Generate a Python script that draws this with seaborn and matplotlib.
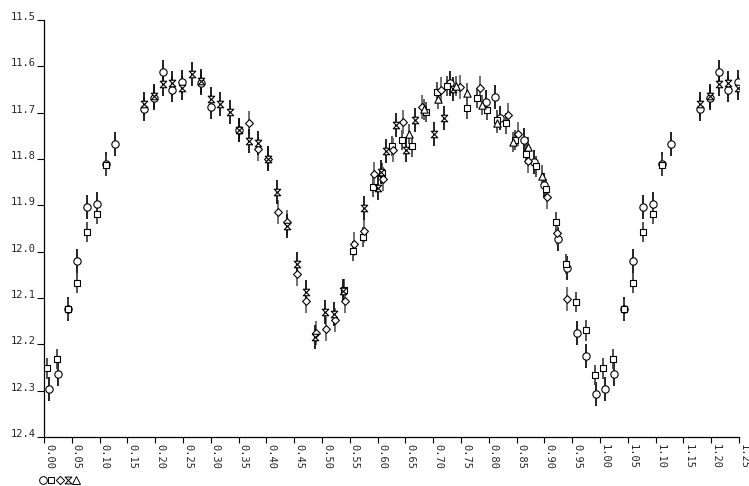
import numpy as np
import pandas as pd
import matplotlib
matplotlib.use("Agg")
import matplotlib.pyplot as plt
from matplotlib.path import Path
from matplotlib.lines import Line2D
import seaborn as sns

# Phased light curve: five observing runs, each with its own symbol.
circle_phase = [0.009, 0.026, 0.043, 0.060, 0.077, 0.095, 0.1115, 0.128, 0.180, 0.197,
                0.214, 0.231, 0.248, 0.283, 0.300, 0.351, 0.730, 0.795, 0.812, 0.820,
                0.863, 0.881, 0.900, 0.924, 0.941, 0.958, 0.975, 0.993]
circle_mag = [12.296, 12.264, 12.124, 12.020, 11.903, 11.898, 11.811, 11.768, 11.692, 11.668,
              11.613, 11.650, 11.634, 11.635, 11.688, 11.737, 11.637, 11.677, 11.666, 11.711,
              11.759, 11.806, 11.856, 11.973, 12.035, 12.176, 12.225, 12.307]

square_phase = [0.006, 0.024, 0.043, 0.060, 0.077, 0.095, 0.1115, 0.539, 0.555, 0.573,
                0.591, 0.608, 0.625, 0.644, 0.662, 0.687, 0.707, 0.724, 0.761, 0.779,
                0.796, 0.814, 0.831, 0.848, 0.867, 0.885, 0.903, 0.921, 0.938, 0.957,
                0.974, 0.991]
square_mag = [12.252, 12.231, 12.124, 12.068, 11.958, 11.918, 11.814, 12.082, 11.998, 11.968,
              11.860, 11.831, 11.772, 11.759, 11.773, 11.699, 11.655, 11.643, 11.691, 11.668,
              11.694, 11.716, 11.723, 11.759, 11.789, 11.816, 11.865, 11.937, 12.027, 12.109,
              12.170, 12.266]

diamond_phase = [0.369, 0.3855, 0.403, 0.421, 0.4376, 0.4544, 0.471, 0.4897, 0.5066, 0.524,
                 0.542, 0.558, 0.576, 0.593, 0.610, 0.628, 0.645, 0.680, 0.714, 0.748,
                 0.784, 0.835, 0.853, 0.870, 0.905, 0.922, 0.940]
diamond_mag = [11.723, 11.779, 11.799, 11.914, 11.937, 12.048, 12.107, 12.176, 12.167, 12.148,
               12.106, 11.983, 11.955, 11.832, 11.844, 11.780, 11.721, 11.687, 11.650, 11.645,
               11.647, 11.705, 11.747, 11.804, 11.882, 11.960, 12.103]

hourglass_phase = [0.180, 0.197, 0.214, 0.231, 0.248, 0.266, 0.283, 0.300, 0.317, 0.335,
                   0.351, 0.368, 0.3855, 0.403, 0.4196, 0.4365, 0.4544, 0.4706, 0.488, 0.505,
                   0.522, 0.537, 0.575, 0.601, 0.606, 0.616, 0.633, 0.651, 0.668, 0.702,
                   0.719, 0.736]
hourglass_mag = [11.682, 11.665, 11.638, 11.637, 11.647, 11.617, 11.632, 11.670, 11.682, 11.699,
                 11.737, 11.762, 11.766, 11.799, 11.871, 11.945, 12.027, 12.087, 12.185, 12.130,
                 12.135, 12.085, 11.906, 11.862, 11.829, 11.783, 11.726, 11.780, 11.716, 11.747,
                 11.711, 11.648]

triangle_phase = [0.656, 0.683, 0.709, 0.741, 0.761, 0.788, 0.815, 0.843, 0.870, 0.896]
triangle_mag = [11.746, 11.693, 11.670, 11.643, 11.658, 11.684, 11.722, 11.763, 11.775, 11.836]

# one-sigma errors per run (mag)
run_err = {"circle": 0.026, "square": 0.022, "diamond": 0.026, "hourglass": 0.026, "triangle": 0.022}

x_ticks = [0.00, 0.05, 0.10, 0.15, 0.20, 0.25, 0.30, 0.35, 0.40, 0.45, 0.50, 0.55, 0.60,
           0.65, 0.70, 0.75, 0.80, 0.85, 0.90, 0.95, 1.00, 1.05, 1.10, 1.15, 1.20, 1.25]
y_ticks = [11.5, 11.6, 11.7, 11.8, 11.9, 12.0, 12.1, 12.2, 12.3, 12.4]

hourglass = Path([(-1, 1), (1, 1), (-1, -1), (1, -1), (-1, 1)],
                 [Path.MOVETO, Path.LINETO, Path.LINETO, Path.LINETO, Path.CLOSEPOLY])
diamond = Path([(0, 1), (1, 0), (0, -1), (-1, 0), (0, 1)],
               [Path.MOVETO, Path.LINETO, Path.LINETO, Path.LINETO, Path.CLOSEPOLY])

runs = {
    "circle": (circle_phase, circle_mag),
    "square": (square_phase, square_mag),
    "diamond": (diamond_phase, diamond_mag),
    "hourglass": (hourglass_phase, hourglass_mag),
    "triangle": (triangle_phase, triangle_mag),
}
style = {
    "circle": dict(marker="o", s=28, bar="#111111"),
    "square": dict(marker="s", s=18, bar="#444444"),
    "diamond": dict(marker=diamond, s=32, bar="#666666"),
    "hourglass": dict(marker=hourglass, s=22, bar="#111111"),
    "triangle": dict(marker="^", s=28, bar="#555555"),
}

frames = []
for name, (ph, mg) in runs.items():
    d = pd.DataFrame({"phase": ph, "mag": mg, "run": name})
    d["err"] = run_err[name]
    # repeat the first quarter cycle after phase 1
    wrap = d[d["phase"] < 0.25].copy()
    wrap["phase"] = wrap["phase"] + 1.0
    frames.append(pd.concat([d, wrap], ignore_index=True))
df = pd.concat(frames, ignore_index=True)

sns.set_style("white")
plt.rcParams["font.family"] = ["DejaVu Sans Mono", "DejaVu Sans"]

fig = plt.figure(figsize=(7.49, 4.86), dpi=100)
ax = fig.add_axes([44 / 749, 1 - 437 / 486, 695 / 749, 417 / 486])

for name in runs:
    d = df[df["run"] == name]
    ax.vlines(d["phase"], d["mag"] - d["err"], d["mag"] + d["err"],
              colors=style[name]["bar"], linewidth=1.3, zorder=2)
for name in runs:
    d = df[df["run"] == name]
    sns.scatterplot(data=d, x="phase", y="mag", marker=style[name]["marker"],
                    s=style[name]["s"], color="white", edgecolor="black",
                    linewidth=0.8, ax=ax, zorder=3, legend=False)

ax.set_xlim(0, 1.25)
ax.set_ylim(12.4, 11.5)
ax.set_xlabel("")
ax.set_ylabel("")
ax.set_xticks(x_ticks)
ax.set_xticklabels([f"{t:.2f}" for t in x_ticks], rotation=270, fontsize=7.5)
ax.set_yticks(y_ticks)
ax.set_yticklabels([f"{t:.1f}" for t in y_ticks], fontsize=7.5)
for lab in ax.get_xticklabels():
    lab.set_horizontalalignment("left")
    lab.set_verticalalignment("top")
for lab in ax.get_yticklabels():
    lab.set_verticalalignment("baseline")
ax.tick_params(axis="x", direction="out", length=4, width=0.8, pad=1, color="black")
ax.tick_params(axis="y", direction="out", length=5, width=0.8, pad=1, color="black")
ax.tick_params(bottom=True, left=True)
for side in ("top", "right"):
    ax.spines[side].set_visible(False)
for side in ("left", "bottom"):
    ax.spines[side].set_color("black")
    ax.spines[side].set_linewidth(0.9)

handles = [Line2D([], [], linestyle="none", marker=style[n]["marker"],
                  markersize=np.sqrt(style[n]["s"]) * 1.05, markerfacecolor="white",
                  markeredgecolor="black", markeredgewidth=0.7) for n in runs]
fig.legend(handles, [""] * 5, ncol=5, loc="center left",
           bbox_to_anchor=(39 / 749, 1 - 481 / 486), frameon=False,
           handlelength=0.75, handletextpad=0.0, columnspacing=0.05,
           borderpad=0, borderaxespad=0, fontsize=7.5)

fig.savefig("out.png", dpi=100)
